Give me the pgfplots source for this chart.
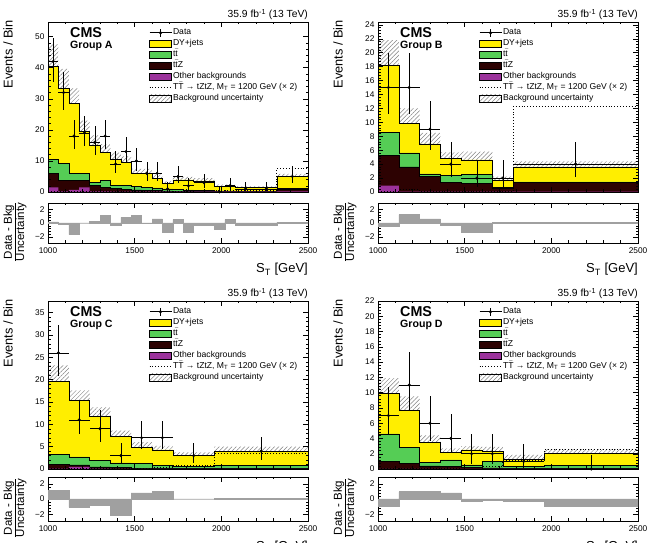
\documentclass[border=0pt]{standalone}
\usepackage{pgfplots}
\pgfplotsset{compat=1.18}
\usepackage{pgfplotstable}
\usepgfplotslibrary{fillbetween}
\usetikzlibrary{patterns,patterns.meta}
\usepackage{fontspec}
\setmainfont{Liberation Sans}
\definecolor{cDY}{RGB}{255,238,0}
\definecolor{cTT}{RGB}{85,205,85}
\definecolor{cTTZ}{RGB}{45,2,2}
\definecolor{cOth}{RGB}{155,50,155}
\definecolor{cRat}{RGB}{160,160,160}
\definecolor{cHatch}{RGB}{130,130,130}

% ---------------- Group A ----------------
\pgfplotstableread{
x O Z T tot unc sig
1000 1.5 6.1 10.5 40.5 7.0 0.2
1060 0.2 3.8 9.1 33.3 6.3 0.2
1120 0.7 3.8 5.9 28.5 4.8 0.2
1180 1.5 3.8 5.9 19.5 3.5 0.2
1240 0.2 2.2 3.2 15.2 3.0 0.2
1300 0.2 1.6 3.8 12.8 2.6 0.2
1360 0.1 1.1 2.2 10.5 2.2 0.2
1420 0.1 0.9 2.2 9.5 2.0 0.2
1480 0.1 0.7 1.8 6.0 1.4 0.2
1540 0.1 0.6 1.6 6.0 1.4 0.2
1600 0.1 0.5 1.3 4.5 1.1 0.3
1660 0.1 0.4 1.0 2.8 0.8 0.3
1720 0.1 0.3 0.8 3.9 1.0 0.3
1780 0.1 0.3 0.7 3.9 1.0 0.3
1840 0.1 0.3 0.6 3.6 0.9 0.4
1960 0.1 0.2 0.4 1.9 0.5 0.4
2020 0.1 0.2 0.4 1.9 0.5 0.4
2080 0.1 0.2 0.3 1.4 0.4 0.5
2200 0.1 0.2 0.3 1.4 0.4 0.5
2320 0.2 1.0 1.1 5.0 0.8 7.6
2500 0.2 1.0 1.1 5.0 0.8 7.6
}\stackA
\pgfplotstableread{
xc n em ep xw
1030 42 6.46 7.53 30
1090 32 5.62 6.73 30
1150 18 4.22 5.30 30
1210 19 4.33 5.42 30
1270 16 3.97 5.10 30
1330 18 4.22 5.30 30
1390 9 2.94 4.11 30
1450 13 3.58 4.71 30
1510 10 3.11 4.26 30
1570 6 2.38 3.58 30
1630 6 2.38 3.58 30
1690 1 0.83 2.30 30
1750 5 2.16 3.38 30
1810 2 1.29 2.64 30
1900 3 1.63 2.92 60
1990 0 0 1.84 30
2050 2 1.29 2.64 30
2140 1 0.83 2.30 60
2260 1 0.83 2.30 60
2410 5 2.16 3.38 90
}\dataA
\pgfplotstableread{
x r
1000 0.15
1060 -0.2
1120 -1.7
1180 0.0
1240 0.2
1300 1.1
1360 -0.4
1420 0.8
1480 1.1
1540 -0.1
1600 0.6
1660 -1.4
1720 0.5
1780 -1.4
1840 -0.4
1960 -0.9
2020 0.5
2080 -0.3
2200 -0.3
2320 0.1
2500 0.1
}\ratA

% ---------------- Group B ----------------
\pgfplotstableread{
x O Z T tot unc sig
1000 0.9 5.3 8.6 18.2 3.6 0.1
1120 0.05 3.6 5.6 9.8 2.2 0.3
1240 0.05 2.2 2.6 6.9 1.6 0.05
1360 0.05 1.4 2.4 4.8 0.9 0.05
1480 0.05 1.2 2.55 4.6 1.2 0.05
1660 0.05 0.6 0.65 1.7 0.5 0.05
1780 0.05 1.4 1.45 3.6 0.8 12.3
2500 0.05 1.4 1.45 3.6 0.8 12.3
}\stackB
\pgfplotstableread{
xc n em ep xw
1060 15 3.87 4.96 60
1180 15 3.87 4.96 60
1300 9 2.94 4.11 60
1420 4 1.91 3.16 60
1570 2 1.29 2.64 90
1720 2 1.29 2.64 60
2140 4 1.91 3.16 360
}\dataB
\pgfplotstableread{
x r
1000 -0.5
1120 1.2
1240 0.6
1360 -0.3
1480 -1.4
1660 0.1
1780 0.1
2500 0.1
}\ratB

% ---------------- Group C ----------------
\pgfplotstableread{
x O Z T tot unc sig
1000 0.1 1.1 3.2 19.6 3.6 0.05
1120 0.5 0.9 2.7 15.3 2.3 0.05
1240 0.1 0.5 1.9 11.8 2.0 0.1
1360 0.05 0.3 1.35 7.3 1.3 0.1
1480 0.05 0.15 1.3 4.9 1.1 0.2
1600 0.05 0.1 0.75 4.3 0.9 0.3
1720 0.05 0.1 0.6 3.0 0.7 0.7
1960 0.05 0.1 0.85 4.0 1.0 3.5
2500 0.05 0.1 0.85 4.0 1.0 3.5
}\stackC
\pgfplotstableread{
xc n em ep xw
1060 26 5.08 6.16 60
1180 11 3.27 4.38 60
1300 9 2.94 4.11 60
1420 3 1.63 2.92 60
1540 7 2.58 3.77 60
1660 7 2.58 3.77 60
1840 3 1.63 2.92 120
2230 4 1.91 3.16 270
}\dataC
\pgfplotstableread{
x r
1000 1.1
1120 -1.1
1240 -0.8
1360 -2.1
1480 0.8
1600 1.0
1720 0.0
1960 0.05
2500 0.05
}\ratC

% ---------------- Group D ----------------
\pgfplotstableread{
x O Z T tot unc sig
1000 0.0 1.0 4.6 9.9 2.0 0.05
1120 0.0 0.75 2.8 7.7 1.8 0.05
1240 0.0 0.4 0.85 3.5 0.9 0.1
1360 0.0 0.3 1.2 2.2 0.5 0.1
1480 0.0 0.2 0.55 2.5 0.5 0.2
1600 0.0 0.15 1.0 2.3 0.6 0.3
1720 0.0 0.1 0.35 1.3 0.55 1.1
1960 0.0 0.1 0.5 2.0 0.6 2.5
2500 0.0 0.1 0.5 2.0 0.6 2.5
}\stackD
\pgfplotstableread{
xc n em ep xw
1060 7 2.58 3.77 60
1180 11 3.27 4.38 60
1300 6 2.38 3.58 60
1420 4 1.91 3.16 60
1540 2 1.29 2.64 60
1660 2 1.29 2.64 60
1840 1 0.83 2.30 120
2230 0 0 1.84 270
}\dataD
\pgfplotstableread{
x r
1000 -0.9
1120 0.95
1240 1.05
1360 0.8
1480 -0.35
1600 -0.2
1720 -0.3
1960 -1.0
2500 -1.0
}\ratD

\pgfplotsset{
  cmsbase/.style={
    scale only axis, width=260pt,
    xmin=1000, xmax=2500,
    xtick={1000,1500,2000,2500}, minor x tick num=4,
    tick align=inside, tick pos=both,
    major tick length=5pt, minor tick length=2.5pt,
    every tick/.style={black, line width=0.4pt},
    axis line style={line width=0.5pt},
    /pgf/number format/assume math mode=true,
    /pgf/number format/1000 sep={},
    tick label style={font=\fontsize{8.3}{9}\selectfont},
    anchor=south west,
  },
  mainax/.style={cmsbase, xticklabels={}, ymin=0, axis on top, minor y tick num=4,
    legend cell align=left,
    legend style={at={(0.388,0.97)}, anchor=north west, draw=none, fill=none,
      inner sep=0pt, font=\fontsize{8.6}{9}\selectfont, row sep=0pt,
      nodes={inner xsep=1.2pt, inner ysep=0pt, text height=7pt, text depth=4pt}}},
  ratax/.style={cmsbase, ymin=-2.9, ymax=2.9, ytick={-2,0,2}, yticklabels={−2,0,2}, minor y tick num=4,
    xticklabel style={yshift=-1pt}},
}

\newcommand{\stk}[2]{%
 \addplot[forget plot, const plot, fill=cDY, draw=black, line width=0.5pt] table[x=x,y=tot]{#1} \closedcycle;
 \addplot[forget plot, const plot, fill=cTT, draw=black, line width=0.5pt] table[x=x,y=T]{#1} \closedcycle;
 \addplot[forget plot, const plot, fill=cTTZ, draw=black, line width=0.5pt] table[x=x,y=Z]{#1} \closedcycle;
 \addplot[forget plot, const plot, fill=cOth, draw=none] table[x=x,y=O]{#1} \closedcycle;
 \addplot[forget plot, const plot, draw=none, name path=up] table[x=x,y expr=\thisrow{tot}+\thisrow{unc}]{#1};
 \addplot[forget plot, const plot, draw=none, name path=lo] table[x=x,y expr=\thisrow{tot}-\thisrow{unc}]{#1};
 \addplot[forget plot, draw=none, pattern={Lines[angle=45,distance=3pt,line width=0.5pt]}, pattern color=cHatch] fill between[of=up and lo];
 \addplot[forget plot, const plot, black, dotted, line width=0.9pt] table[x=x,y=sig]{#1};
 \addplot[forget plot, only marks, mark=*, mark size=1.3pt, black,
   error bars/.cd, x dir=both, x explicit, y dir=both, y explicit, error mark=none,
   error bar style={line width=0.6pt,black}]
   table[x=xc,y=n,x error=xw,y error plus=ep,y error minus=em]{#2};
}
\newcommand{\cmslegend}{%
 \addlegendimage{legend image code/.code={\draw[black,line width=0.6pt] (0pt,0pt)--(22pt,0pt); \draw[black,line width=0.6pt] (11pt,-4pt)--(11pt,4pt); \fill[black] (11pt,0pt) circle (1.4pt);}}
 \addlegendentry{Data}
 \addlegendimage{legend image code/.code={\draw[fill=cDY,draw=black,line width=0.5pt] (0pt,-3.8pt) rectangle (22pt,3.8pt);}}
 \addlegendentry{DY+jets}
 \addlegendimage{legend image code/.code={\draw[fill=cTT,draw=black,line width=0.5pt] (0pt,-3.8pt) rectangle (22pt,3.8pt);}}
 \addlegendentry{t$\bar{\mbox{t}}$}
 \addlegendimage{legend image code/.code={\draw[fill=cTTZ,draw=black,line width=0.5pt] (0pt,-3.8pt) rectangle (22pt,3.8pt);}}
 \addlegendentry{t$\bar{\mbox{t}}$Z}
 \addlegendimage{legend image code/.code={\draw[fill=cOth,draw=black,line width=0.5pt] (0pt,-3.8pt) rectangle (22pt,3.8pt);}}
 \addlegendentry{Other backgrounds}
 \addlegendimage{legend image code/.code={\draw[black,dotted,line width=0.9pt] (0pt,0pt)--(21pt,0pt);}}
 \addlegendentry{T$\bar{\mbox{T}}$ → tZtZ, M\textsubscript{T} = 1200 GeV (× 2)}
 \addlegendimage{legend image code/.code={\fill[pattern={Lines[angle=45,distance=3pt,line width=0.5pt]}, pattern color=cHatch] (0pt,-3.8pt) rectangle (22pt,3.8pt);}}
 \addlegendentry{Background uncertainty}
}
\newcommand{\ratplot}[1]{%
 \addplot[forget plot, ybar interval, fill=cRat, draw=cRat, line width=0.6pt] table[x=x,y=r]{#1};
}
\newcommand{\decor}[8]{% #1 x0, #2 main y0, #3 main h, #4 ratio y0, #5 ratio h, #6 group, #7 ST baseline, #8 lumi baseline
 \node[anchor=base east, inner sep=0pt, font=\fontsize{10.3}{12}\selectfont] at (#1pt+260pt,#8pt) {35.9 fb\textsuperscript{-1} (13 TeV)};
 \node[anchor=base west, inner sep=0pt, font=\bfseries\fontsize{14.3}{16}\selectfont] at (#1pt+22pt,#2pt+#3pt-15.5pt) {CMS};
 \node[anchor=base west, inner sep=0pt, font=\bfseries\fontsize{10.6}{12}\selectfont] at (#1pt+22pt,#2pt+#3pt-27pt) {Group #6};
 \node[anchor=base east, rotate=90, inner sep=0pt, font=\fontsize{12.8}{14}\selectfont] at (#1pt-35.3pt,#2pt+#3pt+2pt) {Events / Bin};
 \node[rotate=90, inner sep=0pt, font=\fontsize{11.5}{12}\selectfont] at (#1pt-32.5pt,#4pt+#5pt/2-9pt) {\renewcommand{\arraystretch}{0.95}\begin{tabular}{@{}c@{}}Data - Bkg\\\hline Uncertainty\end{tabular}};
 \node[anchor=base east, inner sep=0pt, font=\fontsize{13}{15}\selectfont] at (#1pt+260pt,#7pt) {S\textsubscript{T} [GeV]};
}

\begin{document}
\begin{tikzpicture}
% ---- A ----
\begin{axis}[mainax, at={(48pt,351pt)}, height=170pt, ymax=54.7, ytick={0,10,...,50}]
\stk{\stackA}{\dataA}
\cmslegend
\end{axis}
\begin{axis}[ratax, at={(48pt,300pt)}, height=40pt]
\ratplot{\ratA}
\end{axis}
\decor{48}{351}{170}{300}{40}{A}{270}{525}
% ---- B ----
\begin{axis}[mainax, at={(378pt,351pt)}, height=170pt, ymax=24.4, ytick={0,2,...,24}]
\stk{\stackB}{\dataB}
\cmslegend
\end{axis}
\begin{axis}[ratax, at={(378pt,300pt)}, height=40pt]
\ratplot{\ratB}
\end{axis}
\decor{378}{351}{170}{300}{40}{B}{270}{525}
% ---- C ----
\begin{axis}[mainax, at={(48pt,74pt)}, height=168pt, ymax=37.6, ytick={0,5,...,35}]
\stk{\stackC}{\dataC}
\cmslegend
\end{axis}
\begin{axis}[ratax, at={(48pt,22pt)}, height=44pt]
\ratplot{\ratC}
\end{axis}
\decor{48}{74}{168}{22}{44}{C}{-7}{246}
% ---- D ----
\begin{axis}[mainax, at={(378pt,74pt)}, height=168pt, ymax=22, ytick={0,2,...,22}]
\stk{\stackD}{\dataD}
\cmslegend
\end{axis}
\begin{axis}[ratax, at={(378pt,22pt)}, height=44pt]
\ratplot{\ratD}
\end{axis}
\decor{378}{74}{168}{22}{44}{D}{-7}{246}
\pgfresetboundingbox
\path[use as bounding box] (0,0) rectangle (650pt,543pt);
\end{tikzpicture}
\end{document}
